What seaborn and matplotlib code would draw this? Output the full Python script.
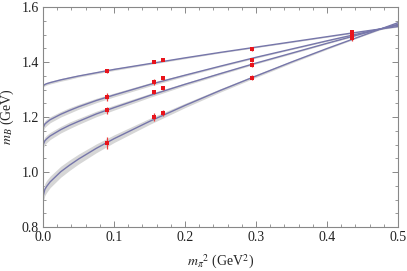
import numpy as np
import pandas as pd
import matplotlib
matplotlib.use("Agg")
import matplotlib.pyplot as plt
import seaborn as sns
from matplotlib.ticker import MultipleLocator

x_grid = [0.0, 0.0025, 0.005, 0.01, 0.025, 0.0375, 0.05, 0.075, 0.1, 0.15,
          0.2, 0.25, 0.3, 0.35, 0.4, 0.45, 0.5]
curve_a = [1.313, 1.318, 1.321, 1.325, 1.335, 1.342, 1.349, 1.361, 1.373, 1.394,
           1.415, 1.435, 1.454, 1.473, 1.492, 1.511, 1.529]
curve_b = [1.160, 1.174, 1.180, 1.190, 1.210, 1.224, 1.237, 1.260, 1.280, 1.318,
           1.352, 1.385, 1.417, 1.447, 1.477, 1.506, 1.534]
curve_c = [1.098, 1.113, 1.120, 1.131, 1.154, 1.170, 1.184, 1.211, 1.234, 1.278,
           1.319, 1.358, 1.396, 1.432, 1.468, 1.503, 1.537]
curve_d = [0.910, 0.936, 0.947, 0.964, 1.001, 1.025, 1.047, 1.086, 1.121, 1.184,
           1.242, 1.297, 1.349, 1.400, 1.449, 1.496, 1.543]

# half-width of the grey error band on each curve
band_a = [0.005, 0.005, 0.005, 0.005, 0.005, 0.005, 0.004, 0.004, 0.004, 0.003,
          0.003, 0.002, 0.002, 0.002, 0.002, 0.002, 0.002]
band_b = [0.012, 0.012, 0.012, 0.011, 0.010, 0.010, 0.009, 0.008, 0.007, 0.006,
          0.004, 0.003, 0.003, 0.002, 0.002, 0.002, 0.002]
band_c = [0.014, 0.014, 0.014, 0.013, 0.012, 0.012, 0.011, 0.010, 0.009, 0.007,
          0.005, 0.004, 0.003, 0.003, 0.002, 0.002, 0.002]
band_d = [0.022, 0.022, 0.022, 0.021, 0.020, 0.019, 0.018, 0.016, 0.014, 0.011,
          0.008, 0.006, 0.005, 0.004, 0.003, 0.002, 0.003]

# lattice data points
x_pts = [0.0897, 0.157, 0.169, 0.295, 0.435]
pts_a = [1.368, 1.400, 1.408, 1.446, 1.508]
pts_b = [1.272, 1.327, 1.342, 1.406, 1.502]
pts_c = [1.225, 1.290, 1.305, 1.390, 1.496]
pts_d = [1.107, 1.199, 1.215, 1.343, 1.486]
err_a = [0.007, 0.005, 0.004, 0.006, 0.008]
err_b = [0.015, 0.010, 0.008, 0.007, 0.008]
err_c = [0.013, 0.008, 0.007, 0.007, 0.008]
err_d = [0.022, 0.015, 0.010, 0.010, 0.008]

curves = {"A": (curve_a, band_a), "B": (curve_b, band_b),
          "C": (curve_c, band_c), "D": (curve_d, band_d)}
points = {"A": (pts_a, err_a), "B": (pts_b, err_b),
          "C": (pts_c, err_c), "D": (pts_d, err_d)}

sns.set_style("ticks")
plt.rcParams["font.family"] = ["Liberation Serif", "DejaVu Serif"]
plt.rcParams["mathtext.fontset"] = "stix"

line_col = "#7676aa"
band_col = "#d6d6d6"
frame_col = "#888888"

fig = plt.figure(figsize=(4.07, 2.71), dpi=100)
ax = fig.add_axes([43 / 407, 1 - 227 / 271, 355 / 407, 220 / 271])

curve_df = pd.concat([
    pd.DataFrame({"x": x_grid, "m": vals, "set": key})
    for key, (vals, _) in curves.items()
], ignore_index=True)

for key, (vals, band) in curves.items():
    v = np.array(vals)
    b = np.array(band)
    ax.fill_between(x_grid, v - b, v + b, color=band_col, lw=0, zorder=1)

sns.lineplot(data=curve_df, x="x", y="m", hue="set",
             palette=[line_col] * 4, lw=1.0, legend=False, ax=ax, zorder=2)

for key, (vals, errs) in points.items():
    ax.errorbar(x_pts, vals, yerr=errs, fmt="s", ms=2.2, color="#e8141c",
                mew=0, ecolor="#ec3a3a", elinewidth=0.9, capsize=2.0,
                capthick=0.9, zorder=3)

ax.set_xlim(0, 0.5)
ax.set_ylim(0.8, 1.6)
ax.xaxis.set_major_locator(MultipleLocator(0.1))
ax.xaxis.set_minor_locator(MultipleLocator(0.02))
ax.yaxis.set_major_locator(MultipleLocator(0.2))
ax.yaxis.set_minor_locator(MultipleLocator(0.05))
ax.xaxis.set_major_formatter(plt.FuncFormatter(lambda v, _: f"{v:.1f}"))
ax.yaxis.set_major_formatter(plt.FuncFormatter(lambda v, _: f"{v:.1f}"))
ax.tick_params(which="both", direction="in", top=True, right=True,
               color=frame_col, labelsize=10, labelcolor="#222222", pad=3)
ax.tick_params(which="major", length=4, width=0.7)
ax.tick_params(which="minor", length=2, width=0.6)
for s in ax.spines.values():
    s.set_color(frame_col)
    s.set_linewidth(0.8)

ax.set_xlabel(r"$m_{\pi}{}^{2}$ (GeV$^{2}$)", fontsize=10, labelpad=6)
ax.set_ylabel(r"$m_B$ (GeV)", fontsize=10, labelpad=4)

fig.savefig("out.png", dpi=100)
